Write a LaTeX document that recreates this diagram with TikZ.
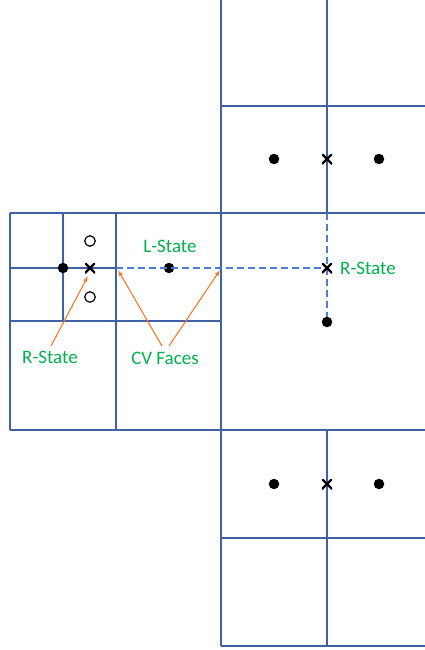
\documentclass[tikz,border=0pt]{standalone}
\usepackage{fontspec}
\setmainfont{Carlito}
\usetikzlibrary{arrows.meta}
\definecolor{gridblue}{RGB}{66,96,164}
\definecolor{dashblue}{RGB}{80,125,205}
\definecolor{lblgreen}{RGB}{0,176,80}
\definecolor{arrorange}{RGB}{237,125,49}
\tikzset{
  gridline/.style={draw=gridblue, line width=1.4pt},
  dashline/.style={draw=dashblue, line width=1.4pt, dash pattern=on 6.5pt off 4.5pt},
  fdot/.style={circle, fill=black, inner sep=0pt, minimum size=10.5pt},
  odot/.style={circle, draw=black, fill=white, line width=1.2pt, inner sep=0pt, minimum size=10.5pt},
  crossmark/.style={inner sep=0pt, minimum size=10pt, path picture={
      \draw[black, line width=2.4pt] (path picture bounding box.south west) -- (path picture bounding box.north east)
        (path picture bounding box.north west) -- (path picture bounding box.south east);}},
  lbl/.style={text=lblgreen, font=\fontsize{19}{22}\selectfont, inner sep=1pt},
  pointer/.style={draw=arrorange, line width=1.1pt, -{Latex[length=6pt,width=4.5pt]}}
}
\begin{document}
\begin{tikzpicture}[x=1pt,y=-1pt]
\useasboundingbox (0,0) rectangle (425,650);
% right column mesh
\draw[gridline] (221,0) -- (221,646);
\draw[gridline] (327,0) -- (327,213);
\draw[gridline] (327,430) -- (327,646);
\draw[gridline] (221,106) -- (425,106);
\draw[gridline] (10,213) -- (425,213);
\draw[gridline] (10,430) -- (425,430);
\draw[gridline] (221,538) -- (425,538);
\draw[gridline] (221,646) -- (425,646);
% left block mesh
\draw[gridline] (10,213) -- (10,430);
\draw[gridline] (116,213) -- (116,430);
\draw[gridline] (10,321) -- (221,321);
\draw[gridline] (63,213) -- (63,321);
\draw[gridline] (10,268) -- (116,268);
% markers
\node[fdot] (ld) at (63,268) {};
\node[crossmark] (lx) at (90,268) {};
\node[odot] (oa) at (90,241) {};
\node[odot] (ob) at (90,297) {};
\node[fdot] (ls) at (169,268) {};
\coordinate (f1) at (116,268);
\coordinate (ftop) at (327,213);
\node[fdot] (rb) at (327,322) {};
\draw[dashline] (f1) -- (327,268);
\draw[dashline] (ftop) -- (rb);
\node[crossmark] (rx) at (327,268) {};
\node[fdot] (t1) at (274,159) {};
\node[crossmark] (tx) at (327,159) {};
\node[fdot] (t2) at (379,159) {};
\node[fdot] (b1) at (274,484) {};
\node[crossmark] (bx) at (327,484) {};
\node[fdot] (b2) at (379,484) {};
% labels
\node[lbl] (lstate) at (170,246) {L-State};
\node[lbl, anchor=west] (rstate) at (339,268) {R-State};
\node[lbl] (rstate2) at (50,357) {R-State};
\node[lbl] (cvf) at (165,358) {CV Faces};
% pointers
\coordinate (p1) at (88,276);
\coordinate (p2) at (118,270);
\coordinate (p3) at (220,270);
\draw[pointer] (51,346) -- (p1);
\draw[pointer] (162,346) -- (p2);
\draw[pointer] (169,346) -- (p3);
\end{tikzpicture}
\end{document}
